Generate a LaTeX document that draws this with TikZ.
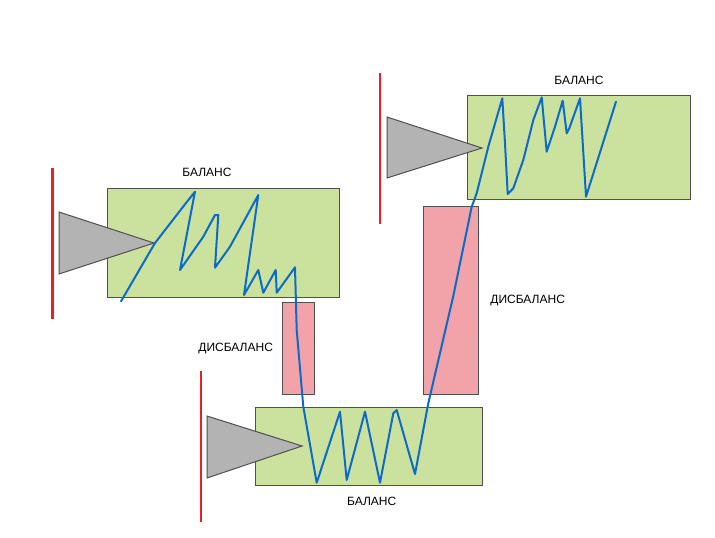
\documentclass[tikz,border=0pt]{standalone}
\usepackage{fontspec}
\setmainfont{Liberation Sans}
\definecolor{balgreen}{HTML}{CAE29E}
\definecolor{dispink}{HTML}{F2A2A9}
\definecolor{trigray}{HTML}{B3B3B3}
\definecolor{edgegray}{HTML}{505050}
\definecolor{pathblue}{HTML}{0B6BC6}
\definecolor{barred}{HTML}{E8202A}
\begin{document}
\begin{tikzpicture}[x=0.75pt,y=-0.75pt,
  balbox/.style={fill=balgreen,draw=edgegray,line width=0.75pt},
  disbox/.style={fill=dispink,draw=edgegray,line width=0.75pt},
  wedge/.style={fill=trigray,draw=edgegray,line width=0.75pt,line join=miter},
  redbar/.style={draw=barred,line width=1.6pt},
  price/.style={draw=pathblue,line width=1.5pt,line join=round,line cap=round},
  lbl/.style={font=\fontsize{9pt}{10pt}\selectfont,text=black,inner sep=0pt}]
\useasboundingbox (0,0) rectangle (715,537);
% boxes
\draw[balbox] (107,188) rectangle (339,297);
\draw[balbox] (467,95) rectangle (690,199);
\draw[balbox] (255,407) rectangle (482,485);
\draw[disbox] (282,302) rectangle (314,394);
\draw[disbox] (423,206) rectangle (478,394);
% triangles
\draw[wedge] (59,212) -- (154,243) -- (59,274) -- cycle;
\draw[wedge] (387,117) -- (482,148) -- (387,178) -- cycle;
\draw[wedge] (207,416) -- (302,446) -- (207,478) -- cycle;
% red bars
\draw[redbar] (52.5,168) -- (52.5,319);
\draw[redbar] (379.7,73) -- (379.7,224);
\draw[redbar] (200.7,371) -- (200.7,522);
% labels
\node[lbl] (b1) at (207,172.7) {БАЛАНС};
\node[lbl] (b2) at (579,80.7) {БАЛАНС};
\node[lbl] (b3) at (371.7,501.3) {БАЛАНС};
\node[lbl] (d1) at (235.7,348.7) {ДИСБАЛАНС};
\node[lbl] (d2) at (527.7,300.7) {ДИСБАЛАНС};
% price path
\draw[price] (121,301.3) -- (155,243) -- (186,203) -- (195,191.7)
  -- (180,270) -- (203.3,236.7) -- (215,215) -- (218.3,215)
  -- (215,267.7) -- (230,246.7) -- (258.3,195)
  -- (244,295) -- (258.3,270) -- (263.3,292.7) -- (275.7,270)
  -- (276.7,292.7) -- (295,267.3) -- (296.7,330) -- (303.3,406.7)
  -- (316.7,482.7) -- (340,411.7) -- (346.7,480) -- (365,411.7)
  -- (380,482.7) -- (393.3,413.3) -- (396.7,410) -- (415,474)
  -- (428.3,403.3) -- (453.3,296) -- (471.7,206.7) -- (476.7,193.3)
  -- (488.3,146.7) -- (502.3,98.3) -- (505,143.3) -- (507.7,194)
  -- (513.3,188.3) -- (523.3,160) -- (533.3,120) -- (541.7,97.3)
  -- (546.7,151.7) -- (555,126.7) -- (562.7,100.7) -- (566.7,133.3)
  -- (569.3,128.3) -- (580,98.3) -- (586,196.7) -- (616,101.7);
\end{tikzpicture}
\end{document}
